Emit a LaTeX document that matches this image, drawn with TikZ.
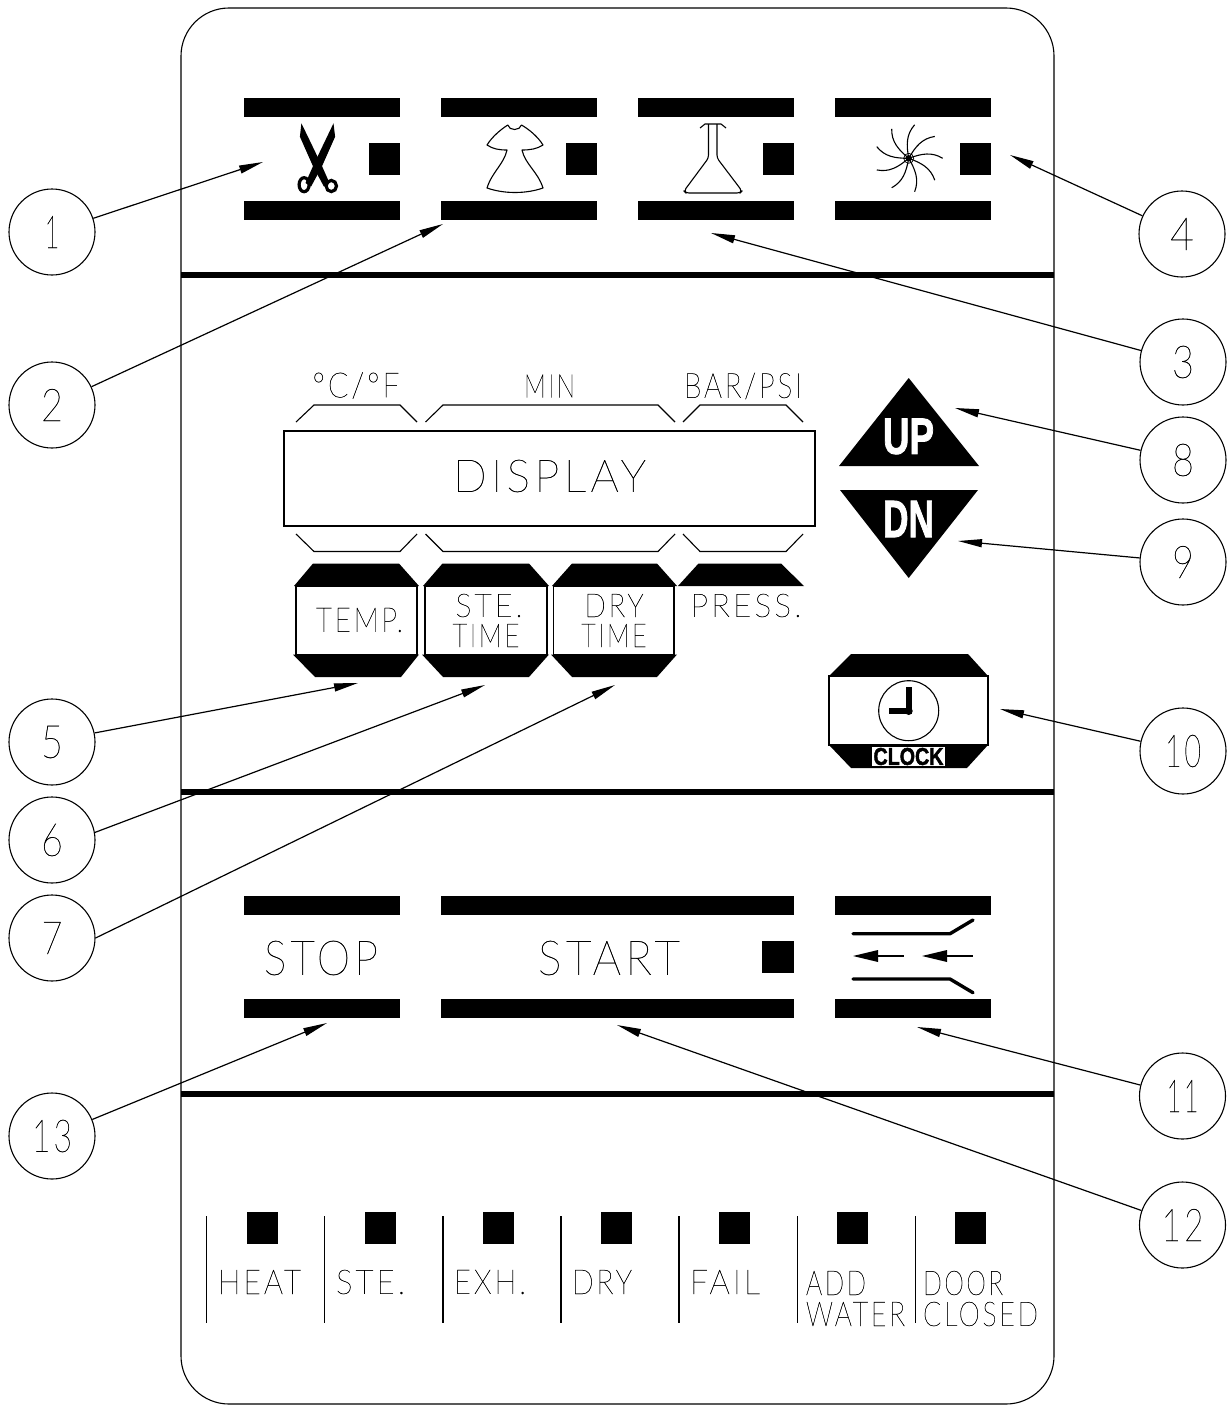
\documentclass[tikz,border=0pt]{standalone}
\usepackage{fontspec}
\usepackage{graphicx}
\usetikzlibrary{arrows.meta}
\newfontfamily\thinf[UprightFont=* Hairline,LetterSpace=10,FakeBold=0.6]{Lato}
\newfontfamily\boldf[UprightFont=* Bold,FakeBold=2]{Liberation Sans}
\newcommand{\cad}[3]{\resizebox{#1pt}{#2pt}{\thinf #3}}
\newcommand{\capbold}[3]{\resizebox{#1pt}{#2pt}{\boldf #3}}
\newcommand{\numb}[2]{\resizebox{#1pt}{32pt}{\thinf #2}}
\tikzset{
  cadtext/.style={inner sep=0pt,outer sep=0pt,text=black},
  blk/.style={fill=black,draw=none},
  thinline/.style={draw=black,line width=1.1pt},
  callout/.style={circle,draw=black,line width=1.1pt,minimum size=86pt,inner sep=0pt,fill=none},
  leader/.style={draw=black,line width=1.2pt,-{Triangle[length=24pt,width=8pt]},shorten >=0pt},
}
\newcommand{\keybars}[3]{%
  \fill[black] (#1,#3) rectangle (#2,#3+19);
  \fill[black] (#1,#3+103) rectangle (#2,#3+122);
}
\begin{document}
\begin{tikzpicture}[x=1pt,y=-1pt]
\useasboundingbox (0,0) rectangle (1229,1405);
\fill[white] (0,0) rectangle (1229,1405);
% panel
\draw[thinline,rounded corners=48pt] (181,8) rectangle (1054,1404);
\foreach \yy in {275,792,1094} \fill[black] (181,\yy-3) rectangle (1054,\yy+3);
% top keys
\keybars{244}{400}{98}
\keybars{441}{597}{98}
\keybars{638}{794}{98}
\keybars{835}{991}{98}
\foreach \xx in {369,566,763,960} \fill[black] (\xx,143) rectangle (\xx+31,175);
% scissors
\begin{scope}[xshift=-0.5pt]
\fill[black] (301.9,123.3) -- (300.4,136.7) -- (313.7,166.7) -- (324.5,186.7) -- (330,183) -- (322,165) -- (310,140) -- cycle;
\fill[black] (334,123.3) -- (335.6,136.7) -- (322.3,166.7) -- (311.5,186.7) -- (306,183) -- (314,165) -- (326,140) -- cycle;
\draw[black,line width=3.2pt] (304.6,184.7) ellipse [x radius=5,y radius=7];
\draw[black,line width=3.2pt] (331.8,186) ellipse [x radius=5.2,y radius=5.6];
\end{scope}
% dress
\begin{scope}[xshift=-2pt]
\draw[thinline,line join=round] (509.8,125) .. controls (511,131) and (522,131) .. (523.5,125)
  .. controls (532,130) and (540,137) .. (545,145)
  .. controls (539,149) and (532,150) .. (524,150)
  .. controls (527,164) and (540,172) .. (545,188)
  .. controls (528,194) and (506,194) .. (489,188)
  .. controls (494,172) and (506,164) .. (509,150)
  .. controls (501,150) and (495,149) .. (489,145)
  .. controls (494,137) and (502,130) .. (509.8,125) -- cycle;
\end{scope}
% flask
\begin{scope}[xshift=-2pt]
\draw[thinline,line join=round] (702,128) -- (707,124) -- (723,124) -- (728,128);
\draw[thinline,line join=round,rounded corners=3pt] (710.5,124) -- (710.5,158) -- (686,191) -- (688,193) -- (742,193) -- (744,191) -- (719,158) -- (719,124);
\end{scope}
% fan
\begin{scope}[shift={(908.7,158.3)}]
\foreach \aa in {-80,-120,-160,-200,-240,-280,-320,-360,-400}
  \draw[black,line width=1.1pt] (0,0) .. controls (\aa-20:14) and (\aa-16:24) .. (\aa:34);
\fill[black] (0,0) circle (3.2pt);
\draw[black,line width=.7pt] (0,0) circle (5pt);
\end{scope}
% display
\draw[thinline] (284,431) rectangle (815,526);
\draw[thinline] (296,422) -- (314,405) -- (400,405) -- (417,422);
\draw[thinline] (425.5,422) -- (443,405) -- (658,405) -- (675,422);
\draw[thinline] (683,422) -- (700,405) -- (786,405) -- (803,422);
\draw[thinline] (296,534) -- (314,551.5) -- (400,551.5) -- (417,534);
\draw[thinline] (425.5,534) -- (443,551.5) -- (658,551.5) -- (675,534);
\draw[thinline] (683,534) -- (700,551.5) -- (786,551.5) -- (803,534);
\node[cadtext] (tcf) at (356,385.5) {\cad{87}{25}{°C/°F}};
\node[cadtext] (tmin) at (549.5,386) {\cad{51}{23}{MIN}};
\node[cadtext] (tbar) at (743,386) {\cad{118}{25}{BAR/PSI}};
\node[cadtext] (tdisp) at (549.5,476) {\cad{193}{32}{DISPLAY}};
% parameter keys
\fill[black] (294,586) -- (313,563.5) -- (399,563.5) -- (419,586) -- cycle;
\fill[black] (293,654.5) -- (315,677) -- (401,677) -- (419,654.5) -- cycle;
\draw[thinline] (296,586) rectangle (417,654.5);
\fill[black] (423,586) -- (442.5,563.5) -- (529,563.5) -- (549,586) -- cycle;
\fill[black] (422,654.5) -- (443,677) -- (529,677) -- (549,654.5) -- cycle;
\draw[thinline] (425,586) rectangle (547,654.5);
\fill[black] (552,586) -- (572,563.5) -- (657,563.5) -- (677,586) -- cycle;
\fill[black] (551,654.5) -- (572,677) -- (657,677) -- (677,654.5) -- cycle;
\draw[thinline] (553.5,586) rectangle (674,654.5);
\fill[black] (678,586) -- (698.5,563.5) -- (781,563.5) -- (804,586) -- cycle;
\node[cadtext] (ttemp) at (359.5,620) {\cad{87}{24}{TEMP.}};
\node[cadtext] (tste) at (489,605.5) {\cad{67}{23}{STE.}};
\node[cadtext] (ttimea) at (486,635.5) {\cad{67}{23}{TIME}};
\node[cadtext] (tdry) at (614,605.5) {\cad{59}{23}{DRY}};
\node[cadtext] (ttimeb) at (614,635.5) {\cad{65.5}{23}{TIME}};
\node[cadtext] (tpress) at (746,605.5) {\cad{111}{23}{PRESS.}};
% up / down
\fill[black] (908.7,378) -- (979,466) -- (839,466) -- cycle;
\fill[black] (908.7,578) -- (978,490) -- (840,490) -- cycle;
\node[cadtext,text=white] (tup) at (908.5,436.5) {\capbold{51}{35}{UP}};
\node[cadtext,text=white] (tdn) at (908.5,519) {\capbold{51}{36}{DN}};
% clock key
\fill[black] (829,676) -- (851,654) -- (968,654) -- (988,676) -- cycle;
\fill[black] (829,745) -- (851,768) -- (967,768) -- (988,745) -- cycle;
\draw[thinline] (829,676) rectangle (988,745);
\draw[thinline] (908.7,710.7) circle (30pt);
\fill[black] (905.7,687) rectangle (911.7,713.7);
\fill[black] (889,707.7) rectangle (911.7,713.7);
\fill[black] (908.7,711) circle (4pt);
\fill[white] (872,747) rectangle (945,766);
\node[cadtext] (tclock) at (908.5,756.5) {\capbold{70}{17}{CLOCK}};
% lower keys
\keybars{244}{400}{896}
\keybars{441}{794}{896}
\keybars{835}{991}{896}
\fill[black] (762,941) rectangle (794,973);
\node[cadtext] (tstop) at (321,958) {\cad{114}{34}{STOP}};
\node[cadtext] (tstart) at (609,958) {\cad{142}{34}{START}};
% door icon
\draw[black,line width=3.4pt,line cap=round,line join=round] (853,933.7) -- (950,933.7) -- (973,920);
\draw[black,line width=3.4pt,line cap=round,line join=round] (853,979) -- (950,979) -- (973,992.7);
\draw[black,line width=2.6pt] (878,956) -- (904,956);
\draw[black,line width=2.6pt] (947,956) -- (973,956);
\fill[black] (853,956) -- (878,950) -- (878,962) -- cycle;
\fill[black] (922,956) -- (947,950) -- (947,962) -- cycle;
% status lamps
\foreach \xx in {206.5,324.5,443,561,679,797.5,915.5} \draw[thinline] (\xx,1216) -- (\xx,1323);
\foreach \xx in {247,365,483,601,719,837,955} \fill[black] (\xx,1212) rectangle (\xx+31,1244);
\node[cadtext,anchor=west] (theat) at (218,1282) {\cad{83}{24}{HEAT}};
\node[cadtext,anchor=west] (tsteb) at (336,1282) {\cad{69}{24}{STE.}};
\node[cadtext,anchor=west] (texh) at (454,1282) {\cad{72}{24}{EXH.}};
\node[cadtext,anchor=west] (tdryb) at (572,1282) {\cad{60}{24}{DRY}};
\node[cadtext,anchor=west] (tfail) at (690,1282) {\cad{70}{24}{FAIL}};
\node[cadtext,anchor=west] (tadd) at (806,1283) {\cad{60}{24}{ADD}};
\node[cadtext,anchor=west] (twater) at (806,1314) {\cad{99}{24}{WATER}};
\node[cadtext,anchor=west] (tdoor) at (923,1283) {\cad{80}{24}{DOOR}};
\node[cadtext,anchor=west] (tclosed) at (923,1314) {\cad{115}{24}{CLOSED}};
% callouts
\node[callout] (n1) at (52,232) {\numb{15}{1}};
\node[callout] (n2) at (52,405) {\numb{22}{2}};
\node[callout] (n3) at (1183,362) {\numb{22}{3}};
\node[callout] (n4) at (1182,234) {\numb{24}{4}};
\node[callout] (n5) at (52,742) {\numb{22}{5}};
\node[callout] (n6) at (52,840) {\numb{22}{6}};
\node[callout] (n7) at (52,938) {\numb{21}{7}};
\node[callout] (n8) at (1183,460) {\numb{22}{8}};
\node[callout] (n9) at (1183,562) {\numb{22}{9}};
\node[callout] (n10) at (1183,751) {\numb{36}{10}};
\node[callout] (n11) at (1182.5,1096) {\numb{32}{11}};
\node[callout] (n12) at (1182.5,1225) {\numb{42}{12}};
\node[callout] (n13) at (52,1136) {\numb{40}{13}};
\coordinate (p1) at (263,162);
\coordinate (p2) at (443,224);
\coordinate (p3) at (711,233);
\coordinate (p4) at (1010,155);
\coordinate (p5) at (358,683);
\coordinate (p6) at (485,685);
\coordinate (p7) at (615,685);
\coordinate (p8) at (955,408);
\coordinate (p9) at (958,541);
\coordinate (p10) at (1000,709);
\coordinate (p11) at (917,1027);
\coordinate (p12) at (617,1025);
\coordinate (p13) at (327,1023);
\foreach \i in {1,2,3,4,8,9,10,11,12,13} \draw[leader] (n\i) -- (p\i);
\draw[leader] (n5.12) -- (p5);
\draw[leader] (n6.10) -- (p6);
\draw[leader] (n7.0) -- (p7);
\end{tikzpicture}
\end{document}
